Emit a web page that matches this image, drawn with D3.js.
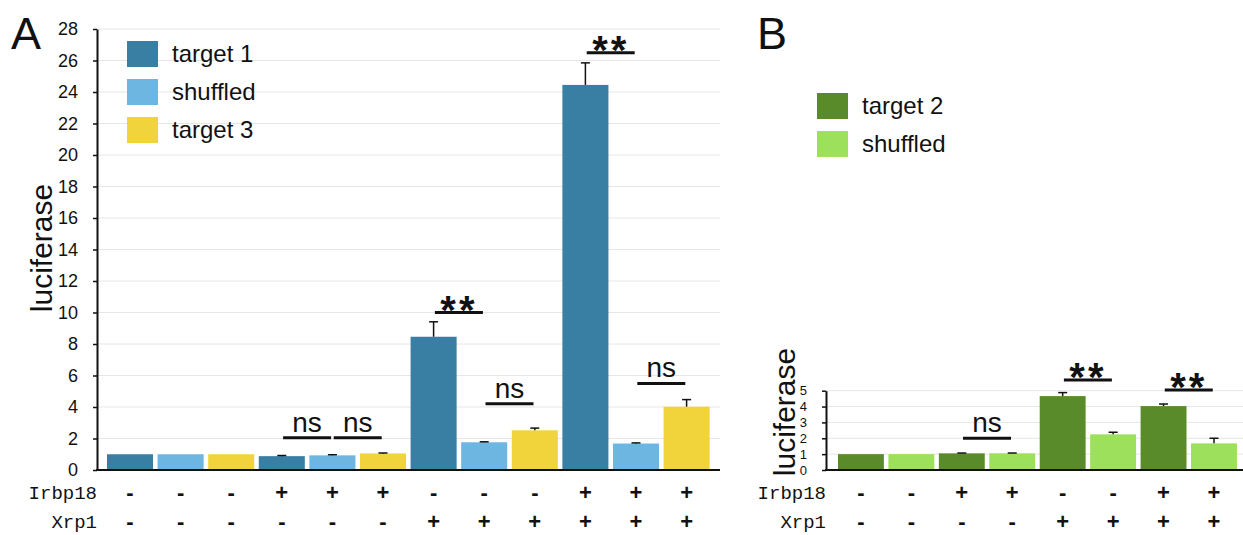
<!DOCTYPE html>
<html>
<head>
<meta charset="utf-8">
<script src="https://cdn.jsdelivr.net/npm/d3@7"></script>
<style>
  body { margin: 0; background: #fff; }
  svg { display: block; }
  text { font-family: "Liberation Sans", Arial, Helvetica, sans-serif; fill: #111; }
  .mono { font-family: "Liberation Mono", "Courier New", monospace; }
</style>
</head>
<body>
<div id="main"></div>
<script>

// panel A data
const seriesA = ['target 1', 'shuffled', 'target 3'];
const barSeriesA = ['target 1', 'shuffled', 'target 3', 'target 1', 'shuffled', 'target 3',
    'target 1', 'shuffled', 'target 3', 'target 1', 'shuffled', 'target 3'];
const valuesA = [1.0, 1.0, 1.0, 0.88, 0.93, 1.05, 8.46, 1.76, 2.52, 24.45, 1.68, 4.02];
const errorsA = [0, 0, 0, 0.04, 0.04, 0.03, 0.95, 0.03, 0.14, 1.4, 0.04, 0.45];
const irbpA = ['-', '-', '-', '+', '+', '+', '-', '-', '-', '+', '+', '+'];
const xrpA = ['-', '-', '-', '-', '-', '-', '+', '+', '+', '+', '+', '+'];
const ticksA = [0, 2, 4, 6, 8, 10, 12, 14, 16, 18, 20, 22, 24, 26, 28];
const sigA = [
    { from: 3, to: 4, label: 'ns', level: 2.05 },
    { from: 4, to: 5, label: 'ns', level: 2.05 },
    { from: 6, to: 7, label: '**', level: 10.0 },
    { from: 7, to: 8, label: 'ns', level: 4.2 },
    { from: 9, to: 10, label: '**', level: 26.5 },
    { from: 10, to: 11, label: 'ns', level: 5.5 }
];

// panel B data
const seriesB = ['target 2', 'shuffled'];
const barSeriesB = ['target 2', 'shuffled', 'target 2', 'shuffled', 'target 2', 'shuffled', 'target 2', 'shuffled'];
const valuesB = [1.0, 1.0, 1.05, 1.05, 4.66, 2.25, 4.03, 1.68];
const errorsB = [0, 0, 0.02, 0.02, 0.22, 0.13, 0.13, 0.32];
const irbpB = ['-', '-', '+', '+', '-', '-', '+', '+'];
const xrpB = ['-', '-', '-', '-', '+', '+', '+', '+'];
const ticksB = [0, 1, 2, 3, 4, 5];
const sigB = [
    { from: 2, to: 3, label: 'ns', level: 2.0 },
    { from: 4, to: 5, label: '**', level: 5.67 },
    { from: 6, to: 7, label: '**', level: 5.04 }
];

const colorA = d3.scaleOrdinal().domain(seriesA).range(['#397fa4', '#6db6e2', '#f1d43c']);
const colorB = d3.scaleOrdinal().domain(seriesB).range(['#5a8b2b', '#9de05c']);

const w = 1243;
const h = 535;

const svg = d3.select('#main').append('svg').attr('width', w).attr('height', h);


function panel(opt) {
    const g = svg.append('g');

    const x = d3.scaleBand().domain(d3.range(opt.values.length))
        .range(opt.xRange).paddingInner(0.09).paddingOuter(0.045);
    const y = d3.scaleLinear().domain([0, opt.yMax]).range([470, opt.yTop]);
    const cx = i => x(i) + x.bandwidth() / 2;

    // grid
    g.append('g').selectAll('line').data(opt.ticks.filter(t => t > 0)).enter().append('line')
        .attr('x1', opt.axisX).attr('x2', opt.gridEnd)
        .attr('y1', d => y(d)).attr('y2', d => y(d))
        .attr('stroke', '#e6e6e6').attr('stroke-width', 1);

    // bars
    g.append('g').selectAll('rect').data(opt.values).enter().append('rect')
        .attr('x', (d, i) => x(i))
        .attr('width', x.bandwidth())
        .attr('y', d => y(d))
        .attr('height', d => y(0) - y(d))
        .attr('fill', (d, i) => opt.color(opt.barSeries[i]));

    // error bars
    const eb = g.append('g').selectAll('g').data(opt.values.map((v, i) => ({ v: v, e: opt.errors[i], i: i })).filter(d => d.e > 0))
        .enter().append('g');
    eb.append('line')
        .attr('x1', d => cx(d.i)).attr('x2', d => cx(d.i))
        .attr('y1', d => y(d.v)).attr('y2', d => y(d.v + d.e))
        .attr('stroke', '#111').attr('stroke-width', 1.5);
    eb.append('line')
        .attr('x1', d => cx(d.i) - 4.5).attr('x2', d => cx(d.i) + 4.5)
        .attr('y1', d => y(d.v + d.e)).attr('y2', d => y(d.v + d.e))
        .attr('stroke', '#111').attr('stroke-width', 1.5);

    // y axis
    const yAxis = d3.axisLeft(y).tickValues(opt.ticks).tickFormat(d3.format('d'))
        .tickSizeInner(4).tickSizeOuter(0).tickPadding(opt.tickPad);
    const ya = g.append('g').attr('transform', `translate(${opt.axisX},0)`).call(yAxis);
    ya.select('.domain').attr('stroke', '#111').attr('stroke-width', 2);
    ya.selectAll('.tick line').attr('stroke', '#111').attr('stroke-width', 1.5);
    ya.selectAll('.tick text').style('font-size', opt.tickFont + 'px')
        .style('font-family', '"Liberation Sans", Arial, sans-serif').attr('fill', '#111');

    // x baseline
    g.append('line').attr('x1', opt.axisX - 1).attr('x2', opt.gridEnd)
        .attr('y1', y(0)).attr('y2', y(0)).attr('stroke', '#111').attr('stroke-width', 2);

    // significance
    const sg = g.append('g').selectAll('g').data(opt.sig).enter().append('g');
    sg.append('line')
        .attr('x1', d => (cx(d.from) + cx(d.to)) / 2 - 24)
        .attr('x2', d => (cx(d.from) + cx(d.to)) / 2 + 24)
        .attr('y1', d => y(d.level)).attr('y2', d => y(d.level))
        .attr('stroke', '#111').attr('stroke-width', 3);
    sg.append('text')
        .attr('x', d => (cx(d.from) + cx(d.to)) / 2)
        .attr('y', d => d.label === 'ns' ? y(d.level) - 6 : y(d.level) + 11)
        .attr('text-anchor', 'middle')
        .style('font-size', d => d.label === 'ns' ? '28px' : '40px')
        .style('font-weight', d => d.label === 'ns' ? 'normal' : 'bold')
        .style('letter-spacing', d => d.label === 'ns' ? '0px' : '3px')
        .text(d => d.label);

    // +/- rows
    const rows = [{ name: 'Irbp18', signs: opt.irbp, y: 499, sy: 500 }, { name: 'Xrp1', signs: opt.xrp, y: 528, sy: 529 }];
    rows.forEach(r => {
        g.append('text').attr('class', 'mono').attr('x', opt.axisX).attr('y', r.y)
            .attr('text-anchor', 'end').style('font-size', '19px').text(r.name);
        g.append('g').selectAll('text').data(r.signs).enter().append('text')
            .attr('x', (d, i) => cx(i)).attr('y', r.sy)
            .attr('text-anchor', 'middle')
            .style('font-size', '22px').style('font-weight', 'bold')
            .text(d => d);
    });

    // legend
    const leg = g.append('g').attr('transform', `translate(${opt.legendX},${opt.legendY})`);
    opt.series.forEach((s, i) => {
        leg.append('rect').attr('x', 0).attr('y', i * 38).attr('width', 31).attr('height', 26).attr('fill', opt.color(s));
        leg.append('text').attr('x', 45).attr('y', i * 38 + 21).style('font-size', '24px').text(s);
    });

    // y label
    g.append('text').attr('transform', `translate(${opt.labelX},${opt.labelY}) rotate(-90)`)
        .attr('text-anchor', 'middle').style('font-size', '30px').text('luciferase');

    // panel letter
    g.append('text').attr('x', opt.letterX).attr('y', 49).style('font-size', '45px').text(opt.letter);
}


panel({
    values: valuesA, errors: errorsA, barSeries: barSeriesA, series: seriesA, color: colorA,
    irbp: irbpA, xrp: xrpA, ticks: ticksA, sig: sigA,
    yMax: 28, yTop: 29, xRange: [104.7, 711.9], axisX: 97, gridEnd: 720,
    tickPad: 15, tickFont: 18, legendX: 127, legendY: 41,
    labelX: 52, labelY: 248, letter: 'A', letterX: 11
});

panel({
    values: valuesB, errors: errorsB, barSeries: barSeriesB, series: seriesB, color: colorB,
    irbp: irbpB, xrp: xrpB, ticks: ticksB, sig: sigB,
    yMax: 5, yTop: 390.7, xRange: [835.7, 1239.2], axisX: 826, gridEnd: 1243,
    tickPad: 15, tickFont: 13, legendX: 817, legendY: 93,
    labelX: 795, labelY: 412, letter: 'B', letterX: 757
});

</script>
</body>
</html>
